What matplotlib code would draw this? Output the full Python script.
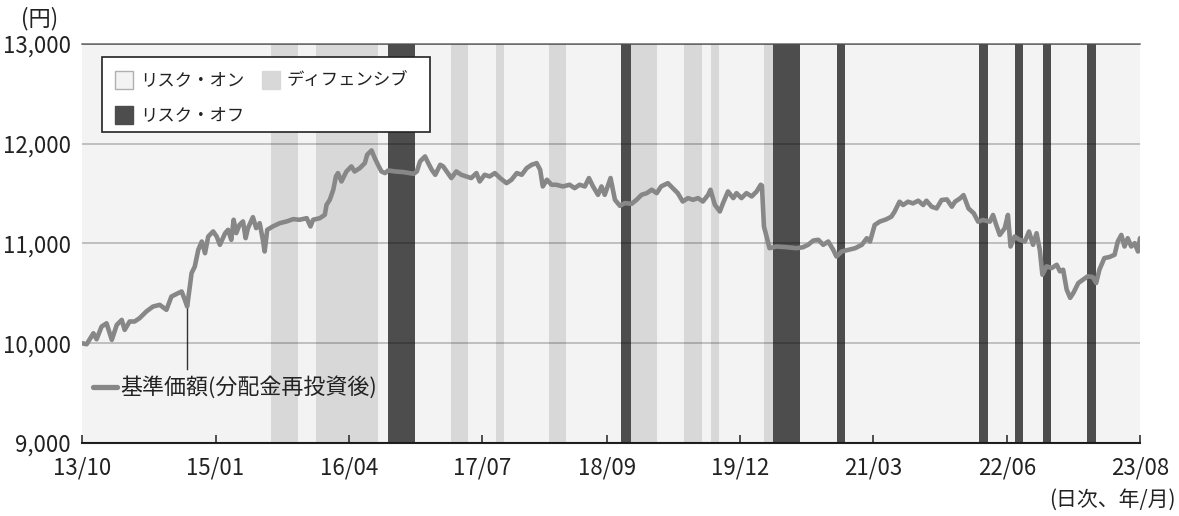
import matplotlib
matplotlib.use("Agg")
import matplotlib.pyplot as plt
from matplotlib.patches import Rectangle
from matplotlib.lines import Line2D
from matplotlib.ticker import FuncFormatter
import numpy as np
import pandas as pd

plt.rcParams['font.family'] = ['Noto Sans CJK JP', 'DejaVu Sans']

# --- data -------------------------------------------------------------------
nav_dates = [
    "2013-10-01", "2013-10-17", "2013-11-09", "2013-11-20", "2013-12-07", "2013-12-24",
    "2014-01-11", "2014-01-28", "2014-02-14", "2014-02-24", "2014-03-13", "2014-03-30",
    "2014-04-16", "2014-05-09", "2014-06-01", "2014-06-24", "2014-07-17", "2014-08-03",
    "2014-08-21", "2014-09-07", "2014-09-18", "2014-09-26", "2014-10-11", "2014-10-22",
    "2014-11-03", "2014-11-15", "2014-11-26", "2014-12-07", "2014-12-24", "2015-01-05",
    "2015-01-16", "2015-02-03", "2015-02-13", "2015-02-24", "2015-03-04", "2015-03-13",
    "2015-03-24", "2015-04-05", "2015-04-14", "2015-04-22", "2015-05-09", "2015-05-20",
    "2015-06-01", "2015-06-12", "2015-06-18", "2015-06-27", "2015-07-16", "2015-08-09",
    "2015-09-01", "2015-09-24", "2015-10-16", "2015-11-09", "2015-11-22", "2015-12-01",
    "2015-12-24", "2016-01-10", "2016-01-16", "2016-01-27", "2016-02-08", "2016-02-17",
    "2016-02-24", "2016-03-07", "2016-03-24", "2016-04-10", "2016-04-21", "2016-05-09",
    "2016-05-26", "2016-06-03", "2016-06-18", "2016-06-29", "2016-07-10", "2016-07-22",
    "2016-08-03", "2016-08-14", "2016-09-07", "2016-10-05", "2016-11-09", "2016-11-20",
    "2016-12-01", "2016-12-18", "2016-12-29", "2017-01-10", "2017-01-22", "2017-02-08",
    "2017-02-18", "2017-03-06", "2017-03-18", "2017-04-04", "2017-04-21", "2017-05-08",
    "2017-05-25", "2017-06-12", "2017-06-23", "2017-07-10", "2017-07-27", "2017-08-14",
    "2017-09-01", "2017-09-23", "2017-10-10", "2017-10-28", "2017-11-14", "2017-12-01",
    "2017-12-18", "2018-01-04", "2018-01-16", "2018-01-25", "2018-02-08", "2018-02-24",
    "2018-03-12", "2018-04-04", "2018-04-27", "2018-05-14", "2018-05-31", "2018-06-18",
    "2018-07-02", "2018-07-16", "2018-08-02", "2018-08-14", "2018-08-25", "2018-09-14",
    "2018-09-29", "2018-10-16", "2018-11-02", "2018-11-25", "2018-12-12", "2018-12-29",
    "2019-01-16", "2019-02-02", "2019-02-19", "2019-03-06", "2019-03-29", "2019-04-15",
    "2019-05-02", "2019-05-19", "2019-06-06", "2019-06-23", "2019-07-10", "2019-07-27",
    "2019-08-14", "2019-08-22", "2019-09-06", "2019-09-23", "2019-10-04", "2019-10-21",
    "2019-11-08", "2019-11-19", "2019-12-06", "2019-12-23", "2020-01-10", "2020-01-27",
    "2020-02-10", "2020-02-14", "2020-02-21", "2020-03-01", "2020-03-11", "2020-04-04",
    "2020-05-08", "2020-06-12", "2020-07-04", "2020-07-21", "2020-08-08", "2020-08-25",
    "2020-09-11", "2020-09-28", "2020-10-15", "2020-10-26", "2020-11-13", "2020-12-06",
    "2020-12-29", "2021-01-21", "2021-02-07", "2021-02-18", "2021-03-06", "2021-03-23",
    "2021-04-15", "2021-05-02", "2021-05-13", "2021-05-30", "2021-06-11", "2021-06-28",
    "2021-07-15", "2021-08-02", "2021-08-19", "2021-08-30", "2021-09-17", "2021-10-04",
    "2021-10-21", "2021-11-08", "2021-11-25", "2021-12-06", "2021-12-23", "2022-01-04",
    "2022-01-21", "2022-02-08", "2022-02-23", "2022-03-11", "2022-04-04", "2022-04-15",
    "2022-04-26", "2022-05-08", "2022-05-25", "2022-06-05", "2022-06-14", "2022-06-28",
    "2022-07-15", "2022-08-02", "2022-08-16", "2022-08-30", "2022-09-11", "2022-09-22",
    "2022-10-01", "2022-10-15", "2022-11-02", "2022-11-19", "2022-11-30", "2022-12-11",
    "2022-12-23", "2023-01-04", "2023-01-15", "2023-02-01", "2023-02-17", "2023-03-05",
    "2023-03-22", "2023-04-03", "2023-04-14", "2023-05-01", "2023-05-18", "2023-06-05",
    "2023-06-16", "2023-06-28", "2023-07-09", "2023-07-20", "2023-08-01", "2023-08-13",
    "2023-08-24", "2023-08-31",
]

nav_values = [
    10000, 9990, 10100, 10040, 10167, 10200,
    10034, 10184, 10234, 10134, 10218, 10218,
    10251, 10318, 10368, 10385, 10335, 10468,
    10495, 10519, 10435, 10368, 10703, 10769,
    10937, 11020, 10903, 11070, 11121, 11070,
    10987, 11104, 11137, 11037, 11238, 11104,
    11187, 11221, 11054, 11154, 11264, 11154,
    11204, 11037, 10920, 11137, 11171, 11204,
    11221, 11244, 11238, 11254, 11171, 11238,
    11254, 11288, 11388, 11438, 11539, 11672,
    11706, 11622, 11722, 11773, 11722, 11756,
    11806, 11890, 11933, 11856, 11789, 11722,
    11706, 11732, 11722, 11716, 11699, 11722,
    11823, 11873, 11806, 11739, 11689, 11789,
    11773, 11706, 11656, 11722, 11689, 11672,
    11656, 11706, 11622, 11689, 11672, 11706,
    11656, 11605, 11639, 11706, 11689, 11756,
    11789, 11806, 11739, 11572, 11639, 11589,
    11589, 11572, 11589, 11555, 11589, 11572,
    11656, 11572, 11488, 11572, 11488, 11656,
    11438, 11378, 11405, 11398, 11438, 11488,
    11505, 11539, 11505, 11572, 11605, 11555,
    11505, 11421, 11455, 11438, 11455, 11421,
    11488, 11539, 11388, 11321, 11405, 11522,
    11455, 11505, 11455, 11505, 11472, 11522,
    11589, 11580, 11170, 11070, 10953, 10970,
    10963, 10953, 10963, 10987, 11030, 11037,
    10987, 11020, 10937, 10870, 10920, 10937,
    10953, 10987, 11053, 11020, 11186, 11219,
    11243, 11269, 11319, 11419, 11386, 11419,
    11402, 11429, 11386, 11429, 11369, 11352,
    11436, 11442, 11369, 11419, 11452, 11485,
    11352, 11303, 11219, 11236, 11219, 11286,
    11186, 11086, 11153, 11286, 10970, 11070,
    11037, 11020, 11120, 10987, 11103, 10937,
    10687, 10771, 10754, 10787, 10721, 10737,
    10538, 10455, 10505, 10604, 10638, 10671,
    10664, 10604, 10737, 10854, 10864, 10887,
    11020, 11086, 10970, 11053, 10970, 11003,
    10920, 11053,
]

defensive_periods = [
    ("2015-07-09", "2015-10-09"), ("2015-12-11", "2016-07-11"),
    ("2017-03-16", "2017-05-15"), ("2017-08-17", "2017-09-15"),
    ("2018-02-15", "2018-04-14"), ("2018-11-22", "2019-02-19"),
    ("2019-05-24", "2019-07-23"), ("2019-08-24", "2019-09-20"),
    ("2020-02-22", "2020-03-24"),
]
risk_off_periods = [
    ("2016-08-14", "2016-11-14"), ("2018-10-20", "2018-11-22"),
    ("2020-03-24", "2020-06-23"), ("2020-10-27", "2020-11-24"),
    ("2022-02-27", "2022-03-28"), ("2022-06-29", "2022-07-28"),
    ("2022-10-02", "2022-10-30"), ("2023-03-02", "2023-04-01"),
]

tick_dates = ["2013-10-01", "2015-01-01", "2016-04-01", "2017-07-01", "2018-09-01",
              "2019-12-01", "2021-03-01", "2022-06-01", "2023-08-31"]
tick_labels = ["13/10", "15/01", "16/04", "17/07", "18/09", "19/12", "21/03", "22/06", "23/08"]
y_ticks = [9000, 10000, 11000, 12000, 13000]

regime_labels = ["リスク・オン", "ディフェンシブ", "リスク・オフ"]
series_label = "基準価額(分配金再投資後)"

# --- styling ----------------------------------------------------------------
C_ON = "#f3f3f3"
C_DEF = "#d8d8d8"
C_OFF = "#4d4d4d"
C_LINE = "#878787"
C_TEXT = "#222222"

W, H = 1179, 516
fig = plt.figure(figsize=(W / 100, H / 100), dpi=100)


def fx(px):
    return px / W


def fy(py):
    return 1 - py / H


ax = fig.add_axes([fx(82), fy(443), (1140 - 82) / W, (443 - 44) / H])
ax.set_facecolor(C_ON)

dates = pd.to_datetime(nav_dates)

for start, end in defensive_periods:
    ax.axvspan(pd.Timestamp(start), pd.Timestamp(end), color=C_DEF, lw=0, zorder=1)
for start, end in risk_off_periods:
    ax.axvspan(pd.Timestamp(start), pd.Timestamp(end), color=C_OFF, lw=0, zorder=1)

ax.plot(dates, nav_values, color=C_LINE, lw=3.3, solid_joinstyle="round",
        solid_capstyle="round", zorder=3)

ax.set_xlim(pd.Timestamp(tick_dates[0]), pd.Timestamp(tick_dates[-1]))
ax.set_ylim(y_ticks[0], y_ticks[-1])

ax.set_yticks(y_ticks)
ax.yaxis.set_major_formatter(FuncFormatter(lambda v, _: f"{v:,.0f}"))
ax.set_xticks(pd.to_datetime(tick_dates))
ax.set_xticklabels(tick_labels)

ax.yaxis.grid(True, color="black", alpha=0.25, lw=1.2, zorder=2)
ax.set_axisbelow(False)

for side in ("left", "right"):
    ax.spines[side].set_visible(False)
ax.spines["top"].set_color("#6a6a6a")
ax.spines["top"].set_linewidth(1.1)
ax.spines["bottom"].set_color(C_TEXT)
ax.spines["bottom"].set_linewidth(1.5)

ax.tick_params(axis="x", direction="in", length=6, width=1.1, color=C_TEXT,
               labelsize=16, labelcolor=C_TEXT, pad=10)
ax.tick_params(axis="y", length=0, labelsize=16, labelcolor=C_TEXT, pad=8)

# call-out from the series to its label
callout_date = pd.Timestamp("2014-09-24")
callout_val = np.interp(callout_date.value, dates.asi8, nav_values)
ax.plot([callout_date, callout_date], [callout_val, 9740], color="#333333", lw=1.0, zorder=2.5)

fig.add_artist(Line2D([fx(93), fx(117)], [fy(387), fy(387)], transform=fig.transFigure,
                      color=C_LINE, lw=3.8, solid_capstyle="round"))
fig.text(fx(120), fy(387), series_label, ha="left", va="center", fontsize=15.8, color=C_TEXT)

# regime legend
fig.add_artist(Rectangle((fx(101.5), fy(132)), (430 - 101.5) / W, (132 - 57) / H,
                         transform=fig.transFigure, facecolor="white", edgecolor=C_TEXT,
                         lw=1.2, zorder=5))
legend_items = [
    (regime_labels[0], C_ON, "#b0b0b0", 115, 80),
    (regime_labels[1], C_DEF, C_DEF, 262, 80),
    (regime_labels[2], C_OFF, C_OFF, 115, 115),
]
for label, face, edge, x0, yc in legend_items:
    fig.add_artist(Rectangle((fx(x0), fy(yc + 9)), 18 / W, 18 / H, transform=fig.transFigure,
                             facecolor=face, edgecolor=edge, lw=1.0, zorder=6))
    fig.text(fx(x0 + 25), fy(yc), label, ha="left", va="center", fontsize=12.5,
             color=C_TEXT, zorder=7)

fig.text(fx(40), fy(19), "(円)", ha="center", va="center", fontsize=16, color=C_TEXT)
fig.text(fx(1176), fy(500), "(日次、年/月)", ha="right", va="center", fontsize=15, color=C_TEXT)

fig.savefig("out.png", dpi=100)
